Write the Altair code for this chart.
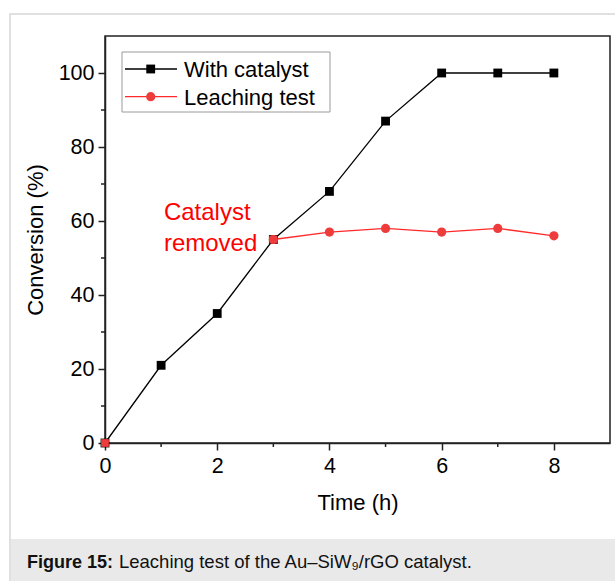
import altair as alt
import pandas as pd

# Conversion over time with the catalyst kept in the reactor
time_h = [0, 1, 2, 3, 4, 5, 6, 7, 8]
with_catalyst = [0, 21, 35, 55, 68, 87, 100, 100, 100]

# Leaching test: catalyst filtered off after 3 h
leach_time = [3, 4, 5, 6, 7, 8]
leach_conv = [55, 57, 58, 57, 58, 56]

# Samples of the catalyst run marked in red
red_mark_time = [0, 3]

series_names = ["With catalyst", "Leaching test"]
note_text = "Catalyst\nremoved"
note_at = (1.05, 62.2)

x_major = [0, 2, 4, 6, 8]
x_minor = [1, 3, 5, 7]
y_major = [0, 20, 40, 60, 80, 100]
y_minor = [10, 30, 50, 70, 90]

caption_bold = "Figure 15:"
caption_rest = "Leaching test of the Au\u2013SiW\u2089/rGO catalyst."

FONT = "Liberation Sans, Arial, Helvetica, sans-serif"
AXIS_COLOR = "#222222"
RED_LINE = "#ff2a2a"
RED_MARK = "#ee3b3b"
W, H = 505, 407

cat_df = pd.DataFrame({"t": time_h, "c": with_catalyst})
leach_df = pd.DataFrame({"t": leach_time, "c": leach_conv})
one = pd.DataFrame({"k": [0]})

xs = alt.Scale(domain=[0, 9], nice=False, zero=False)
ys = alt.Scale(domain=[0, 110], nice=False, zero=False)

x_enc = alt.X(
    "t:Q", scale=xs,
    axis=alt.Axis(values=x_major, title="Time (h)", format="d",
                  labelPadding=5, titlePadding=16, labelFlush=False),
)
y_enc = alt.Y(
    "c:Q", scale=ys,
    axis=alt.Axis(values=y_major, title="Conversion (%)", format="d",
                  labelPadding=4, titlePadding=11, labelFlush=False),
)

cat_line = alt.Chart(cat_df).mark_line(color="#000000", strokeWidth=1.3).encode(x=x_enc, y=y_enc)
cat_pts = alt.Chart(cat_df).mark_point(
    shape="square", filled=True, color="#000000", size=78, opacity=1
).encode(x="t:Q", y="c:Q")

leach_line = alt.Chart(leach_df).mark_line(color=RED_LINE, strokeWidth=1.3).encode(x="t:Q", y="c:Q")
leach_pts = alt.Chart(leach_df).mark_point(
    shape="circle", filled=True, color=RED_MARK, size=85, opacity=1
).encode(x="t:Q", y="c:Q")

red_sq = alt.Chart(cat_df).transform_filter(
    alt.FieldOneOfPredicate(field="t", oneOf=red_mark_time)
).mark_point(shape="square", filled=True, color=RED_MARK, size=60, opacity=1).encode(x="t:Q", y="c:Q")

# minor ticks, outside the axes
x_minor_ticks = alt.Chart(pd.DataFrame({"t": x_minor})).mark_rule(
    color=AXIS_COLOR, strokeWidth=1.5
).encode(x="t:Q", y=alt.value(H), y2=alt.value(H + 4))
y_minor_ticks = alt.Chart(pd.DataFrame({"c": y_minor})).mark_rule(
    color=AXIS_COLOR, strokeWidth=1.5
).encode(y="c:Q", x=alt.value(0), x2=alt.value(-4))

note = alt.Chart(pd.DataFrame({"t": [note_at[0]], "c": [note_at[1]], "s": [note_text]})).mark_text(
    align="left", baseline="middle", lineBreak="\n", lineHeight=31,
    fontSize=24, font=FONT, color="#ff0000"
).encode(x="t:Q", y="c:Q", text="s:N")

# legend box
leg_box = alt.Chart(one).mark_rect(fill="white", stroke="#9a9a9a", strokeWidth=1).encode(
    x=alt.value(17), x2=alt.value(225), y=alt.value(16), y2=alt.value(76)
)
leg_rows = [(33, "#000000", "square", series_names[0], "#000000", 78),
            (60.7, RED_LINE, "circle", series_names[1], RED_MARK, 85)]
leg_layers = [leg_box]
for yy, lc, shp, name, mc, sz in leg_rows:
    leg_layers.append(alt.Chart(one).mark_rule(color=lc, strokeWidth=1.3).encode(
        x=alt.value(20), x2=alt.value(72), y=alt.value(yy)))
    leg_layers.append(alt.Chart(one).mark_point(shape=shp, filled=True, color=mc, size=sz, opacity=1).encode(
        x=alt.value(45.7), y=alt.value(yy)))
    leg_layers.append(alt.Chart(one).mark_text(
        align="left", baseline="middle", fontSize=22, font=FONT, color="#000000", text=name
    ).encode(x=alt.value(79), y=alt.value(yy + 1)))

# outer frame and caption band
frame = alt.Chart(one).mark_rect(fillOpacity=0, stroke="#d6d6d6", strokeWidth=1.5).encode(
    x=alt.value(-95), x2=alt.value(530), y=alt.value(-22), y2=alt.value(560)
)
band = alt.Chart(one).mark_rect(fill="#e9e9e9").encode(
    x=alt.value(-94), x2=alt.value(530), y=alt.value(503), y2=alt.value(560)
)
cap1 = alt.Chart(one).mark_text(
    align="left", baseline="alphabetic", fontSize=18, fontWeight="bold", font=FONT,
    color="#111111", text=caption_bold
).encode(x=alt.value(-78), y=alt.value(531.5))
cap2 = alt.Chart(one).mark_text(
    align="left", baseline="alphabetic", fontSize=18.5, font=FONT,
    color="#111111", text=caption_rest
).encode(x=alt.value(14), y=alt.value(531.5))

chart = alt.layer(
    frame, band, cap1, cap2,
    cat_line, leach_line, cat_pts, leach_pts, red_sq,
    x_minor_ticks, y_minor_ticks, note, *leg_layers
).properties(
    width=W, height=H,
    background="white",
    autosize=alt.AutoSizeParams(type="none"),
    padding={"left": 105, "top": 36, "right": 5, "bottom": 138},
).configure_view(
    stroke=AXIS_COLOR, strokeWidth=1.5
).configure_axis(
    domainColor=AXIS_COLOR, domainWidth=1.5, tickColor=AXIS_COLOR, tickWidth=1.5, tickSize=7,
    grid=False, labelFont=FONT, titleFont=FONT, labelFontSize=21.5, titleFontSize=22,
    titleFontWeight="normal", labelColor="#000000", titleColor="#000000", zindex=1,
)

chart.save("out.html", embed_options={"renderer": "svg", "actions": False})
